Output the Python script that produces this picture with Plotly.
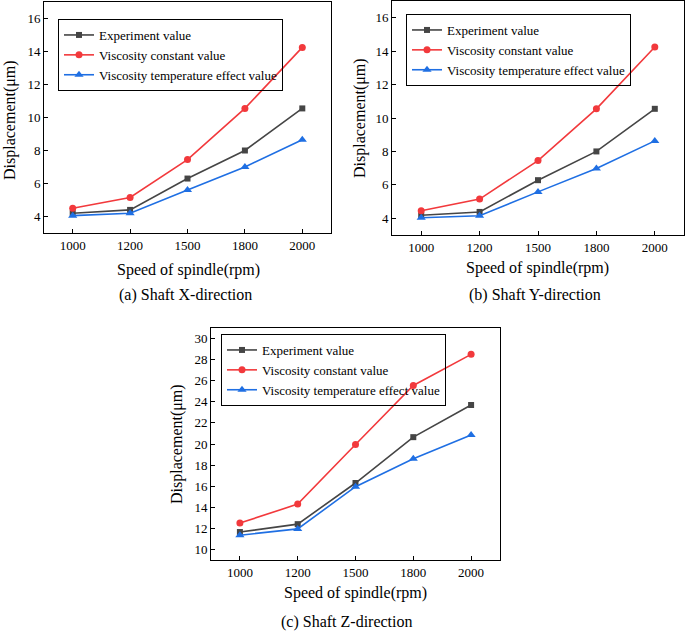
import plotly.graph_objects as go

speeds = ["1000", "1200", "1500", "1800", "2000"]
series_names = ["Experiment value", "Viscosity constant value", "Viscosity temperature effect value"]

# Panel (a) Shaft X-direction
x_exp = [4.2, 4.4, 6.3, 8.0, 10.55]
x_const = [4.5, 5.15, 7.45, 10.55, 14.25]
x_temp = [4.05, 4.2, 5.6, 7.0, 8.65]

# Panel (b) Shaft Y-direction
y_exp = [4.18, 4.38, 6.28, 8.0, 10.55]
y_const = [4.45, 5.15, 7.45, 10.55, 14.25]
y_temp = [4.03, 4.15, 5.58, 6.98, 8.63]

# Panel (c) Shaft Z-direction
z_exp = [11.65, 12.4, 16.3, 20.65, 23.7]
z_const = [12.5, 14.3, 19.95, 25.55, 28.5]
z_temp = [11.35, 11.95, 15.95, 18.6, 20.85]

captions = ["(a) Shaft X-direction", "(b) Shaft Y-direction", "(c) Shaft Z-direction"]
x_title = "Speed of spindle(rpm)"
y_title = "Displacement(μm)"

FONT = "Liberation Serif"
colors = ["#454545", "#f2393c", "#1f6fe3"]
symbols = ["square", "circle", "triangle-up"]
msizes = [6, 7, 8]

W, H = 685, 631

def px(x):
    return x / W

def py(y):
    return 1 - y / H

panels = [
    dict(data=[x_exp, x_const, x_temp], xd=[44, 331], yd=[2, 233], yr=[3, 17], dt=2,
         leg=(58, 19), xt=(188, 270), cap=(185, 295), yt=(10, 120)),
    dict(data=[y_exp, y_const, y_temp], xd=[392, 684], yd=[1, 235], yr=[3, 17], dt=2,
         leg=(406, 14), xt=(537, 268), cap=(535, 295), yt=(360, 118)),
    dict(data=[z_exp, z_const, z_temp], xd=[211, 500], yd=[328, 560], yr=[9, 31], dt=2,
         leg=(221, 334), xt=(355, 593), cap=(347, 622), yt=(177, 444)),
]

fig = go.Figure()
annotations = []
layout = {}
for i, p in enumerate(panels):
    n = i + 1
    xa = "x" if n == 1 else f"x{n}"
    ya = "y" if n == 1 else f"y{n}"
    lg = "legend" if n == 1 else f"legend{n}"
    for j, vals in enumerate(p["data"]):
        fig.add_trace(go.Scatter(
            x=speeds, y=vals, mode="lines+markers", name=series_names[j],
            line=dict(color=colors[j], width=1.6),
            marker=dict(symbol=symbols[j], size=msizes[j], color=colors[j]),
            xaxis=xa, yaxis=ya, legend=lg,
        ))
    axis_common = dict(showline=True, linecolor="black", linewidth=1, mirror=True,
                       ticks="inside", ticklen=4, tickcolor="black", showgrid=False,
                       zeroline=False, tickfont=dict(family=FONT, size=13, color="black"))
    layout["xaxis" if n == 1 else f"xaxis{n}"] = dict(
        domain=[px(p["xd"][0]), px(p["xd"][1])], anchor=ya, type="category",
        range=[-0.5, 4.5], **axis_common)
    layout["yaxis" if n == 1 else f"yaxis{n}"] = dict(
        domain=[py(p["yd"][1]), py(p["yd"][0])], anchor=xa, range=p["yr"],
        dtick=p["dt"], tick0=0, **axis_common)
    layout[lg] = dict(x=px(p["leg"][0]), y=py(p["leg"][1]), xanchor="left", yanchor="top",
                      bordercolor="black", borderwidth=1, bgcolor="rgba(255,255,255,0)",
                      font=dict(family=FONT, size=13, color="black"),
                      tracegroupgap=0)
    annotations.append(dict(x=px(p["xt"][0]), y=py(p["xt"][1]), xref="paper", yref="paper",
                            text=x_title, showarrow=False, xanchor="center", yanchor="middle",
                            font=dict(family=FONT, size=16, color="black")))
    annotations.append(dict(x=px(p["cap"][0]), y=py(p["cap"][1]), xref="paper", yref="paper",
                            text=captions[i], showarrow=False, xanchor="center", yanchor="middle",
                            font=dict(family=FONT, size=16, color="black")))
    annotations.append(dict(x=px(p["yt"][0]), y=py(p["yt"][1]), xref="paper", yref="paper",
                            text=y_title, showarrow=False, textangle=-90,
                            xanchor="center", yanchor="middle",
                            font=dict(family=FONT, size=16, color="black")))

fig.update_layout(
    width=W, height=H, margin=dict(l=0, r=0, t=0, b=0),
    paper_bgcolor="white", plot_bgcolor="white",
    annotations=annotations, **layout,
)
fig.write_html("out.html", config={"displayModeBar": False},
               post_script="document.body.style.margin='0';document.body.style.overflow='hidden';")
